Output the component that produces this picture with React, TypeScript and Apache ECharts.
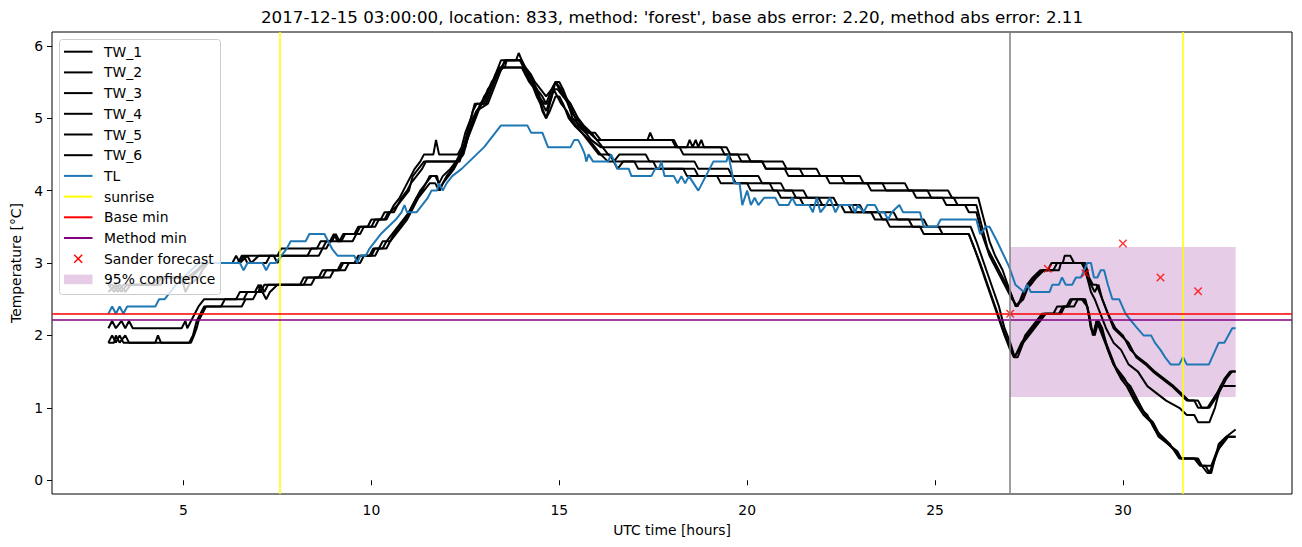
import React, { useEffect, useRef } from "react";
import * as echarts from "echarts";

const TITLE =
  "2017-12-15 03:00:00, location: 833, method: 'forest', base abs error: 2.20, method abs error: 2.11";
const X_NAME = "UTC time [hours]";
const Y_NAME = "Temperature [°C]";
const X_TICKS = [5, 10, 15, 20, 25, 30];
const Y_TICKS = [0, 1, 2, 3, 4, 5, 6];
const X_RANGE = [1.5, 34.5];
const Y_RANGE = [-0.19, 6.19];

const SUNRISE_HOURS = [7.56, 31.58];
const FORECAST_HOURS = [27];
const BASE_MIN = [2.3];
const METHOD_MIN = [2.21];
const SANDER_HOURS = [27, 28, 29, 30, 31, 32];
const SANDER_VALUES = [2.3, 2.92, 2.86, 3.27, 2.8, 2.61];
const CONF_HOURS = [27, 33];
const CONF_BOUNDS = [1.15, 3.22];

const TW_1 = [[3.0,2.7],[3.15,2.6],[3.3,2.7],[3.45,2.6],[3.6,2.7],[4.3,2.7],[4.4,2.8],[4.9,2.8],[5.0,2.7],[5.1,2.8],[5.35,2.9],[5.55,3.0],[6.45,3.0],[6.55,3.1],[7.5,3.1],[7.6,3.2],[8.55,3.2],[8.65,3.3],[8.95,3.3],[9.05,3.4],[9.15,3.3],[9.25,3.4],[9.55,3.4],[9.65,3.5],[9.9,3.5],[10.0,3.6],[10.25,3.6],[10.35,3.7],[10.5,3.7],[10.6,3.8],[10.75,3.9],[10.85,4.0],[10.95,4.1],[11.05,4.2],[11.15,4.3],[11.3,4.4],[11.4,4.5],[11.65,4.5],[11.72,4.7],[11.8,4.5],[12.3,4.5],[12.4,4.6],[12.5,4.8],[12.65,5.0],[12.75,5.2],[13.0,5.2],[13.15,5.4],[13.3,5.6],[13.45,5.8],[13.85,5.8],[13.92,5.9],[14.0,5.8],[14.1,5.7],[14.25,5.6],[14.35,5.5],[14.5,5.4],[14.65,5.3],[14.8,5.4],[14.9,5.5],[15.0,5.4],[15.15,5.3],[15.3,5.1],[15.45,5.0],[15.6,4.9],[15.8,4.8],[16.0,4.7],[17.35,4.7],[17.42,4.8],[17.5,4.7],[18.0,4.7],[18.1,4.6],[18.4,4.6],[18.47,4.7],[18.55,4.6],[18.63,4.7],[18.7,4.6],[18.78,4.7],[18.85,4.6],[19.3,4.6],[19.4,4.5],[20.0,4.5],[20.1,4.4],[20.95,4.4],[21.05,4.3],[21.85,4.3],[21.95,4.2],[23.0,4.2],[23.1,4.1],[24.2,4.1],[24.3,4.0],[25.35,4.0],[25.45,3.9],[26.15,3.9],[26.3,3.6],[26.45,3.3],[26.6,3.1],[26.8,2.9],[27.0,2.6],[27.15,2.4],[27.3,2.5],[27.45,2.7],[27.6,2.8],[27.8,2.9],[28.0,2.9],[28.1,3.0],[28.4,3.0],[28.45,3.1],[28.6,3.1],[28.7,3.0],[29.0,3.0],[29.1,2.8],[29.2,2.7],[29.3,2.7],[29.45,2.5],[29.6,2.3],[29.75,2.1],[29.95,2.0],[30.15,1.9],[30.35,1.7],[30.6,1.6],[30.8,1.5],[31.05,1.4],[31.3,1.3],[31.5,1.2],[31.7,1.1],[31.9,1.1],[32.0,1.0],[32.25,1.0],[32.5,1.2],[32.7,1.4],[32.85,1.5],[33.0,1.5]];

const TW_2 = [[3.0,2.6],[3.2,2.7],[3.35,2.6],[3.5,2.7],[4.2,2.7],[4.3,2.8],[5.2,2.8],[5.4,2.9],[5.6,3.0],[6.3,3.0],[6.4,3.1],[6.5,3.0],[6.7,3.1],[6.8,3.0],[7.0,3.1],[7.4,3.1],[7.5,3.0],[7.6,3.1],[8.6,3.1],[8.7,3.2],[8.8,3.3],[9.2,3.3],[9.3,3.4],[9.7,3.4],[9.8,3.5],[10.1,3.5],[10.2,3.6],[10.4,3.6],[10.5,3.7],[10.7,3.8],[10.8,3.9],[10.95,4.0],[11.05,4.1],[11.2,4.2],[11.35,4.3],[11.45,4.4],[12.35,4.4],[12.45,4.6],[12.55,4.7],[12.7,5.0],[12.8,5.1],[13.1,5.2],[13.25,5.4],[13.4,5.6],[13.55,5.8],[14.0,5.8],[14.15,5.6],[14.3,5.5],[14.45,5.3],[14.6,5.2],[14.7,5.2],[14.85,5.4],[14.95,5.4],[15.1,5.3],[15.25,5.2],[15.35,5.0],[15.55,4.9],[15.75,4.8],[15.95,4.8],[16.1,4.7],[18.05,4.7],[18.15,4.6],[19.45,4.6],[19.55,4.5],[19.75,4.5],[19.85,4.4],[20.4,4.4],[20.5,4.3],[21.4,4.3],[21.5,4.2],[22.5,4.2],[22.6,4.1],[23.6,4.1],[23.7,4.0],[24.8,4.0],[24.9,3.9],[25.5,3.9],[25.6,3.8],[26.1,3.8],[26.25,3.5],[26.4,3.2],[26.6,3.0],[26.8,2.8],[27.0,2.6],[27.15,2.4],[27.35,2.5],[27.5,2.7],[27.65,2.8],[27.85,2.9],[28.3,2.9],[28.35,3.0],[28.95,3.0],[29.05,2.8],[29.15,2.7],[29.25,2.6],[29.35,2.7],[29.45,2.5],[29.6,2.3],[29.8,2.1],[30.0,2.0],[30.2,1.8],[30.4,1.7],[30.65,1.6],[30.85,1.5],[31.1,1.4],[31.35,1.3],[31.55,1.2],[31.75,1.1],[32.0,1.1],[32.1,1.0],[32.3,1.0],[32.55,1.2],[32.75,1.4],[32.9,1.5],[33.0,1.5]];

const TW_3 = [[3.0,2.7],[3.1,2.7],[3.25,2.6],[3.4,2.7],[4.4,2.7],[4.5,2.8],[4.95,2.8],[5.05,2.6],[5.15,2.7],[5.4,2.8],[5.5,2.9],[5.65,3.0],[6.5,3.0],[6.6,3.1],[6.7,3.0],[7.2,3.0],[7.3,3.1],[8.3,3.1],[8.4,3.2],[8.8,3.2],[8.9,3.3],[9.0,3.4],[9.1,3.3],[9.5,3.3],[9.6,3.4],[9.7,3.5],[10.0,3.5],[10.1,3.6],[10.35,3.6],[10.45,3.7],[10.6,3.7],[10.7,3.8],[10.85,3.9],[11.0,4.0],[11.1,4.2],[11.25,4.3],[11.4,4.4],[12.3,4.4],[12.4,4.5],[12.55,4.8],[12.7,5.1],[12.8,5.2],[13.05,5.2],[13.2,5.4],[13.35,5.6],[13.5,5.7],[14.05,5.7],[14.2,5.6],[14.3,5.5],[14.4,5.4],[14.55,5.2],[14.65,5.1],[14.8,5.3],[14.9,5.5],[15.0,5.5],[15.1,5.4],[15.25,5.2],[15.35,5.1],[15.5,4.9],[15.7,4.8],[15.85,4.7],[16.1,4.6],[18.2,4.6],[18.3,4.5],[19.5,4.5],[19.6,4.4],[20.4,4.4],[20.5,4.3],[21.0,4.3],[21.1,4.2],[22.1,4.2],[22.2,4.1],[23.2,4.1],[23.3,4.0],[24.4,4.0],[24.5,3.9],[25.2,3.9],[25.3,3.8],[25.8,3.8],[25.9,3.7],[26.1,3.7],[26.25,3.4],[26.45,3.1],[26.65,2.9],[26.85,2.7],[27.05,2.5],[27.2,2.4],[27.35,2.6],[27.55,2.7],[27.7,2.8],[27.9,2.9],[28.15,2.9],[28.25,3.0],[28.9,3.0],[29.0,2.9],[29.15,2.6],[29.25,2.5],[29.4,2.3],[29.55,2.1],[29.75,1.9],[29.95,1.8],[30.15,1.6],[30.4,1.5],[30.65,1.3],[30.9,1.2],[31.15,1.1],[31.5,1.0],[31.7,0.9],[31.9,0.9],[32.0,0.8],[32.3,0.8],[32.45,1.0],[32.6,1.3],[33.0,1.3]];

const TW_4 = [[3.0,2.1],[3.1,2.2],[3.2,2.1],[3.35,2.2],[3.45,2.1],[3.55,2.2],[3.65,2.1],[4.95,2.1],[5.05,2.2],[5.1,2.1],[5.2,2.2],[5.3,2.3],[5.4,2.4],[5.55,2.5],[6.4,2.5],[6.5,2.6],[6.9,2.6],[7.0,2.7],[7.05,2.6],[7.15,2.7],[8.2,2.7],[8.3,2.8],[8.6,2.8],[8.7,2.9],[9.1,2.9],[9.2,3.0],[9.55,3.0],[9.65,3.1],[9.95,3.1],[10.05,3.2],[10.2,3.2],[10.3,3.3],[10.5,3.3],[10.6,3.4],[10.75,3.5],[10.9,3.6],[11.0,3.7],[11.1,3.8],[11.2,3.9],[11.35,4.0],[11.45,4.1],[11.55,4.2],[11.7,4.2],[11.8,4.1],[11.9,4.2],[12.1,4.3],[12.25,4.4],[12.35,4.5],[12.45,4.6],[12.6,4.8],[12.75,5.0],[12.9,5.2],[13.05,5.3],[13.2,5.5],[13.35,5.6],[13.5,5.7],[14.0,5.7],[14.1,5.6],[14.2,5.5],[14.35,5.4],[14.45,5.3],[14.55,5.1],[14.65,5.0],[14.75,5.2],[14.85,5.4],[14.95,5.3],[15.05,5.2],[15.2,5.1],[15.3,5.0],[15.45,4.9],[15.6,4.8],[15.75,4.7],[15.9,4.6],[16.05,4.5],[16.35,4.5],[16.45,4.4],[16.6,4.5],[17.3,4.5],[17.4,4.4],[18.6,4.4],[18.7,4.3],[19.5,4.3],[19.6,4.2],[20.3,4.2],[20.4,4.1],[20.9,4.1],[21.0,4.0],[21.5,4.0],[21.6,3.9],[22.3,3.9],[22.4,3.8],[23.0,3.8],[23.1,3.7],[23.9,3.7],[24.0,3.6],[24.7,3.6],[24.8,3.5],[25.95,3.5],[26.1,3.3],[26.3,3.0],[26.5,2.7],[26.7,2.4],[26.85,2.1],[27.0,1.9],[27.12,1.7],[27.3,1.9],[27.45,2.0],[27.6,2.1],[27.75,2.2],[27.9,2.3],[28.15,2.3],[28.25,2.4],[28.55,2.4],[28.65,2.5],[28.95,2.5],[29.05,2.4],[29.15,2.1],[29.22,2.0],[29.3,2.2],[29.4,2.1],[29.55,1.9],[29.7,1.7],[29.85,1.5],[30.0,1.4],[30.2,1.3],[30.4,1.1],[30.6,0.9],[30.8,0.8],[31.0,0.6],[31.2,0.5],[31.45,0.4],[31.55,0.3],[31.9,0.3],[32.05,0.2],[32.2,0.2],[32.3,0.1],[32.45,0.3],[32.6,0.5],[32.75,0.6],[33.0,0.7]];

const TW_5 = [[3.0,1.9],[3.1,2.0],[3.2,1.9],[3.3,2.0],[3.4,1.9],[4.25,1.9],[4.32,2.0],[4.4,1.9],[5.15,1.9],[5.25,2.0],[5.3,2.1],[5.35,2.2],[5.45,2.3],[5.55,2.4],[6.55,2.4],[6.65,2.5],[6.85,2.5],[6.95,2.6],[7.1,2.6],[7.2,2.5],[7.3,2.6],[7.5,2.7],[8.4,2.7],[8.5,2.8],[8.9,2.8],[9.0,2.9],[9.3,2.9],[9.4,3.0],[9.7,3.0],[9.8,3.1],[10.1,3.1],[10.2,3.2],[10.4,3.2],[10.5,3.3],[10.65,3.4],[10.8,3.5],[10.95,3.6],[11.05,3.7],[11.15,3.8],[11.25,3.9],[11.4,4.0],[11.55,4.1],[11.7,4.1],[11.8,4.0],[11.9,4.1],[12.05,4.2],[12.2,4.3],[12.3,4.4],[12.45,4.5],[12.55,4.7],[12.7,4.9],[12.85,5.1],[13.0,5.3],[13.15,5.4],[13.3,5.6],[13.45,5.7],[13.6,5.8],[13.95,5.8],[14.05,5.7],[14.2,5.6],[14.3,5.5],[14.4,5.4],[14.55,5.3],[14.65,5.2],[14.8,5.4],[14.9,5.5],[15.05,5.4],[15.15,5.3],[15.3,5.2],[15.4,5.1],[15.5,5.0],[15.65,4.9],[15.85,4.8],[16.0,4.7],[16.15,4.6],[16.3,4.5],[16.5,4.4],[17.5,4.4],[17.6,4.3],[18.6,4.3],[18.7,4.2],[19.6,4.2],[19.7,4.1],[20.6,4.1],[20.7,4.0],[21.2,4.0],[21.3,3.9],[21.9,3.9],[22.0,3.8],[22.7,3.8],[22.8,3.7],[23.5,3.7],[23.6,3.6],[24.3,3.6],[24.4,3.5],[25.1,3.5],[25.2,3.4],[25.9,3.4],[26.05,3.2],[26.25,2.9],[26.45,2.6],[26.65,2.3],[26.85,2.0],[27.0,1.8],[27.1,1.7],[27.25,1.8],[27.4,2.0],[27.55,2.1],[27.7,2.2],[27.85,2.3],[28.35,2.3],[28.45,2.4],[28.7,2.4],[28.8,2.5],[29.0,2.5],[29.1,2.3],[29.2,2.0],[29.3,2.2],[29.45,2.0],[29.6,1.8],[29.75,1.6],[29.9,1.5],[30.05,1.4],[30.25,1.2],[30.45,1.0],[30.65,0.9],[30.85,0.7],[31.05,0.6],[31.25,0.5],[31.5,0.3],[31.95,0.3],[32.1,0.2],[32.35,0.2],[32.5,0.4],[32.65,0.5],[32.8,0.6],[33.0,0.6]];

const TW_6 = [[3.0,1.9],[3.15,1.9],[3.2,2.0],[3.3,1.9],[3.45,2.0],[3.55,1.9],[5.2,1.9],[5.28,2.0],[5.35,2.1],[5.4,2.2],[5.5,2.3],[5.6,2.4],[6.0,2.4],[6.1,2.5],[6.6,2.5],[6.7,2.6],[7.0,2.6],[7.05,2.7],[7.15,2.6],[7.25,2.7],[8.1,2.7],[8.2,2.8],[8.7,2.8],[8.8,2.9],[9.15,2.9],[9.25,3.0],[9.6,3.0],[9.7,3.1],[10.0,3.1],[10.1,3.2],[10.3,3.2],[10.4,3.3],[10.55,3.4],[10.7,3.5],[10.85,3.6],[11.0,3.7],[11.1,3.8],[11.2,3.9],[11.3,4.0],[11.45,4.1],[11.6,4.2],[11.75,4.2],[11.82,4.0],[11.9,4.1],[12.0,4.2],[12.15,4.3],[12.3,4.4],[12.4,4.5],[12.5,4.6],[12.65,4.9],[12.8,5.1],[12.95,5.2],[13.1,5.4],[13.25,5.5],[13.4,5.7],[13.55,5.7],[13.6,5.8],[14.0,5.8],[14.1,5.6],[14.25,5.5],[14.4,5.3],[14.5,5.2],[14.65,5.0],[14.75,5.1],[14.9,5.3],[15.0,5.3],[15.1,5.2],[15.25,5.0],[15.4,4.9],[15.6,4.8],[15.8,4.7],[15.95,4.6],[16.1,4.5],[16.3,4.4],[16.45,4.4],[16.55,4.3],[16.7,4.4],[17.0,4.4],[17.1,4.3],[18.3,4.3],[18.4,4.2],[19.2,4.2],[19.3,4.1],[20.0,4.1],[20.1,4.0],[20.8,4.0],[20.9,3.9],[21.4,3.9],[21.5,3.8],[22.5,3.8],[22.6,3.7],[23.3,3.7],[23.4,3.6],[23.7,3.6],[23.8,3.5],[24.6,3.5],[24.7,3.4],[25.9,3.4],[26.05,3.2],[26.2,3.0],[26.4,2.7],[26.6,2.4],[26.8,2.1],[26.95,1.9],[27.1,1.7],[27.2,1.7],[27.35,1.9],[27.5,2.0],[27.65,2.1],[27.8,2.2],[27.95,2.3],[28.3,2.3],[28.4,2.4],[28.5,2.4],[28.6,2.5],[28.9,2.5],[29.05,2.4],[29.15,2.1],[29.25,2.0],[29.35,2.2],[29.45,2.1],[29.6,1.8],[29.75,1.6],[29.95,1.4],[30.1,1.3],[30.3,1.1],[30.55,0.9],[30.75,0.8],[30.95,0.6],[31.2,0.5],[31.4,0.4],[31.55,0.3],[32.0,0.3],[32.1,0.2],[32.25,0.1],[32.35,0.1],[32.55,0.5],[32.75,0.6],[33.0,0.6]];

const TL = [[3.0,2.3],[3.1,2.4],[3.2,2.3],[3.3,2.4],[3.4,2.3],[3.5,2.4],[4.25,2.4],[4.35,2.5],[4.5,2.5],[4.65,2.6],[4.8,2.7],[5.0,2.8],[5.2,2.9],[5.4,3.0],[6.5,3.0],[6.6,2.9],[6.7,3.0],[7.1,3.0],[7.2,2.9],[7.3,3.0],[7.45,3.0],[7.6,3.1],[7.75,3.2],[7.85,3.3],[8.25,3.3],[8.35,3.4],[8.75,3.4],[8.85,3.3],[8.95,3.2],[9.1,3.1],[9.55,3.1],[9.62,3.0],[9.7,3.1],[9.85,3.1],[9.95,3.2],[10.1,3.3],[10.25,3.4],[10.45,3.5],[10.65,3.6],[10.8,3.7],[10.88,3.8],[10.95,3.7],[11.2,3.7],[11.35,3.8],[11.5,3.9],[11.6,4.0],[11.75,4.0],[11.8,4.1],[11.9,4.0],[12.0,4.1],[12.15,4.2],[12.4,4.3],[12.6,4.4],[12.8,4.5],[13.0,4.6],[13.15,4.7],[13.3,4.8],[13.45,4.9],[14.15,4.9],[14.25,4.8],[14.55,4.8],[14.7,4.6],[15.3,4.6],[15.4,4.7],[15.5,4.7],[15.6,4.6],[15.68,4.5],[15.72,4.4],[15.78,4.5],[15.9,4.4],[16.3,4.4],[16.38,4.5],[16.55,4.3],[16.85,4.3],[16.92,4.2],[17.45,4.2],[17.55,4.3],[17.65,4.3],[17.72,4.4],[17.8,4.2],[18.05,4.2],[18.15,4.1],[18.25,4.2],[18.35,4.1],[18.45,4.2],[18.7,4.0],[18.9,4.2],[19.0,4.3],[19.1,4.4],[19.45,4.4],[19.5,4.5],[19.65,4.1],[19.8,4.1],[19.87,3.8],[20.0,4.0],[20.1,3.8],[20.2,3.9],[20.3,3.8],[20.45,3.9],[20.75,3.9],[20.85,3.8],[21.1,3.8],[21.2,3.9],[21.3,3.8],[21.65,3.8],[21.75,3.7],[21.85,3.9],[21.95,3.7],[22.1,3.8],[22.2,3.9],[22.35,3.7],[22.45,3.8],[22.8,3.8],[22.87,3.7],[22.95,3.8],[23.1,3.7],[23.2,3.8],[23.4,3.8],[23.5,3.7],[23.65,3.7],[23.75,3.6],[23.85,3.7],[24.05,3.8],[24.15,3.7],[24.25,3.7],[24.6,3.7],[24.7,3.5],[25.05,3.5],[25.15,3.6],[26.1,3.6],[26.2,3.4],[26.35,3.5],[26.45,3.5],[26.55,3.4],[26.65,3.3],[26.97,2.95],[27.14,2.7],[27.25,2.65],[27.37,2.6],[27.45,2.7],[27.55,2.6],[28.05,2.6],[28.12,2.7],[28.3,2.7],[28.38,2.8],[28.48,2.7],[28.65,2.7],[28.75,2.8],[28.88,2.8],[28.97,2.9],[29.05,3.0],[29.15,3.0],[29.23,2.8],[29.32,2.8],[29.41,2.9],[29.5,2.9],[29.6,2.7],[29.72,2.5],[29.9,2.5],[30.07,2.3],[30.22,2.2],[30.38,2.1],[30.55,2.0],[30.75,2.0],[30.85,1.9],[31.0,1.8],[31.12,1.7],[31.27,1.6],[31.5,1.6],[31.6,1.7],[31.7,1.6],[32.29,1.6],[32.55,1.9],[32.7,1.9],[32.91,2.1],[33.0,2.1]];

const TW_NAMES = ["TW_1", "TW_2", "TW_3", "TW_4", "TW_5", "TW_6"];
const TW_DATA = [TW_1, TW_2, TW_3, TW_4, TW_5, TW_6];

const FONT = "DejaVu Sans";
const X_SYMBOL =
  "path://M0,1.2L1.2,0L5,3.8L8.8,0L10,1.2L6.2,5L10,8.8L8.8,10L5,6.2L1.2,10L0,8.8L3.8,5Z";

const LEGEND_ITEMS: [string, string, string][] = [
  ["TW_1", "line", "#000000"],
  ["TW_2", "line", "#000000"],
  ["TW_3", "line", "#000000"],
  ["TW_4", "line", "#000000"],
  ["TW_5", "line", "#000000"],
  ["TW_6", "line", "#000000"],
  ["TL", "line", "#1f77b4"],
  ["sunrise", "line", "#ffff00"],
  ["Base min", "line", "#ff0000"],
  ["Method min", "line", "#800080"],
  ["Sander forecast", "x", "#ff0000"],
  ["95% confidence", "patch", "rgba(128,0,128,0.2)"],
];

const LZ = 100;

function buildLegend() {
  const children: any[] = [
    {
      type: "rect",
      z: LZ,
      shape: { x: 59.5, y: 39.5, width: 161, height: 255, r: 3 },
      style: { fill: "rgba(255,255,255,0.8)", stroke: "#cccccc", lineWidth: 1 },
    },
  ];
  LEGEND_ITEMS.forEach(([label, kind, color], i) => {
    const cy = 51.7 + i * 20.7;
    if (kind === "line") {
      children.push({
        type: "line",
        z: LZ + 1,
        shape: { x1: 64, y1: cy, x2: 92.5, y2: cy },
        style: { stroke: color, lineWidth: 2 },
      });
    } else if (kind === "x") {
      children.push({
        type: "line",
        z: LZ + 1,
        shape: { x1: 74.2, y1: cy - 4, x2: 82.2, y2: cy + 4 },
        style: { stroke: color, lineWidth: 1.4 },
      });
      children.push({
        type: "line",
        z: LZ + 1,
        shape: { x1: 74.2, y1: cy + 4, x2: 82.2, y2: cy - 4 },
        style: { stroke: color, lineWidth: 1.4 },
      });
    } else {
      children.push({
        type: "rect",
        z: LZ + 1,
        shape: { x: 64, y: cy - 4.8, width: 28.5, height: 9.6 },
        style: { fill: color },
      });
    }
    children.push({
      type: "text",
      z: LZ + 1,
      style: {
        text: label,
        x: 104,
        y: cy,
        verticalAlign: "middle",
        align: "left",
        fontFamily: FONT,
        fontSize: 13.9,
        fill: "#000",
      },
    });
  });
  return { type: "group", z: LZ, silent: true, children };
}

export default function App() {
  const ref = useRef<HTMLDivElement>(null);
  useEffect(() => {
    if (!ref.current) return;
    const chart = echarts.init(ref.current, null, { renderer: "svg" });
    const lineSeries = TW_DATA.map((d, i) => ({
      type: "line",
      name: TW_NAMES[i],
      data: d,
      showSymbol: false,
      symbol: "none",
      lineStyle: { color: "#000000", width: 2 },
      itemStyle: { color: "#000000" },
      emphasis: { disabled: true },
      z: 2,
    }));
    const markLineBase = {
      silent: true,
      symbol: ["none", "none"],
      label: { show: false },
      emphasis: { disabled: true },
      animation: false,
    };
    const option: any = {
      animation: false,
      backgroundColor: "#ffffff",
      title: {
        text: TITLE,
        left: 672,
        top: 8,
        textAlign: "center",
        padding: 0,
        textStyle: { fontFamily: FONT, fontSize: 16.7, fontWeight: "normal", color: "#000" },
      },
      grid: {
        left: 52,
        right: 10,
        top: 32,
        bottom: 53,
        show: true,
        borderColor: "#000",
        borderWidth: 1,
        backgroundColor: "transparent",
      },
      xAxis: {
        type: "value",
        min: X_RANGE[0],
        max: X_RANGE[1],
        name: X_NAME,
        nameLocation: "middle",
        nameGap: 29,
        nameTextStyle: { fontFamily: FONT, fontSize: 13.9, color: "#000" },
        axisLine: { show: false },
        splitLine: { show: false },
        axisTick: {
          show: true,
          length: 5,
          customValues: X_TICKS,
          lineStyle: { color: "#000", width: 1 },
        },
        axisLabel: {
          customValues: X_TICKS,
          margin: 9,
          fontFamily: FONT,
          fontSize: 13.9,
          color: "#000",
        },
      },
      yAxis: {
        type: "value",
        min: Y_RANGE[0],
        max: Y_RANGE[1],
        name: Y_NAME,
        nameLocation: "middle",
        nameRotate: 90,
        nameGap: 27,
        nameTextStyle: { fontFamily: FONT, fontSize: 13.9, color: "#000" },
        axisLine: { show: false },
        splitLine: { show: false },
        axisTick: {
          show: true,
          length: 5,
          customValues: Y_TICKS,
          lineStyle: { color: "#000", width: 1 },
        },
        axisLabel: {
          customValues: Y_TICKS,
          margin: 9,
          fontFamily: FONT,
          fontSize: 13.9,
          color: "#000",
        },
      },
      graphic: [buildLegend()],
      series: [
        {
          type: "line",
          name: "95% confidence",
          data: [],
          z: 1,
          markArea: {
            silent: true,
            emphasis: { disabled: true },
            itemStyle: { color: "rgba(128,0,128,0.2)" },
            label: { show: false },
            data: [
              [
                { coord: [CONF_HOURS[0], CONF_BOUNDS[0]] },
                { coord: [CONF_HOURS[1], CONF_BOUNDS[1]] },
              ],
            ],
          },
        },
        ...lineSeries,
        {
          type: "line",
          name: "TL",
          data: TL,
          showSymbol: false,
          symbol: "none",
          lineStyle: { color: "#1f77b4", width: 2 },
          itemStyle: { color: "#1f77b4" },
          emphasis: { disabled: true },
          z: 2,
        },
        {
          type: "line",
          name: "sunrise",
          data: [],
          z: 3,
          markLine: {
            ...markLineBase,
            lineStyle: { color: "#ffff00", width: 1.5, type: "solid" },
            data: SUNRISE_HOURS.map((h) => ({ xAxis: h })),
          },
        },
        {
          type: "line",
          name: "Base min",
          data: [],
          z: 3,
          markLine: {
            ...markLineBase,
            lineStyle: { color: "#ff0000", width: 1.5, type: "solid" },
            data: BASE_MIN.map((v) => ({ yAxis: v })),
          },
        },
        {
          type: "line",
          name: "Method min",
          data: [],
          z: 3,
          markLine: {
            ...markLineBase,
            lineStyle: { color: "#800080", width: 1.5, type: "solid" },
            data: METHOD_MIN.map((v) => ({ yAxis: v })),
          },
        },
        {
          type: "scatter",
          name: "Sander forecast",
          data: SANDER_HOURS.map((h, i) => [h, SANDER_VALUES[i]]),
          symbol: X_SYMBOL,
          symbolSize: 8.5,
          itemStyle: { color: "#ff0000" },
          emphasis: { disabled: true },
          z: 4,
        },
        {
          type: "line",
          name: "forecast start",
          data: [],
          z: 3,
          markLine: {
            ...markLineBase,
            lineStyle: { color: "#808080", width: 1.5, type: "solid" },
            data: FORECAST_HOURS.map((h) => ({ xAxis: h })),
          },
        },
      ],
    };
    chart.setOption(option);
    return () => chart.dispose();
  }, []);
  return (
    <div
      ref={ref}
      style={{ position: "fixed", left: 0, top: 0, width: 1302, height: 547, background: "#fff" }}
    />
  );
}
